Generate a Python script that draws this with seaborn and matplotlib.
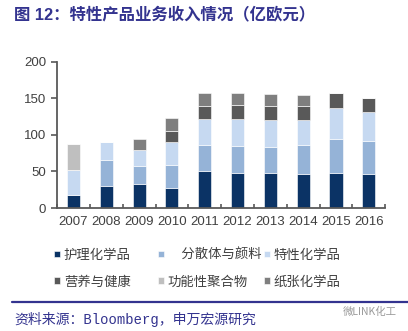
import numpy as np
import matplotlib
matplotlib.use("Agg")
import matplotlib.pyplot as plt
import seaborn as sns

# Revenue of the specialty business by segment (EUR 100 million)
years = ["2007", "2008", "2009", "2010", "2011", "2012", "2013", "2014", "2015", "2016"]
care_chemicals = [18, 30, 33, 27, 51, 48, 48, 47, 48, 47]
dispersions_pigments = [0, 36, 25, 32, 35, 37, 36, 39, 47, 45]
performance_chemicals = [34, 24, 22, 32, 36, 37, 36, 35, 42, 39]
nutrition_health = [0, 0, 0, 15, 18, 19, 20, 19, 20, 19]
functional_polymers = [36, 0, 0, 0, 0, 0, 0, 0, 0, 0]
paper_chemicals = [0, 0, 14, 17, 17, 16, 16, 15, 0, 0]

segment_names = ["护理化学品", "\u3000分散体与颜料", "特性化学品",
                 "营养与健康", "功能性聚合物", "纸张化学品"]
segment_values = [care_chemicals, dispersions_pigments, performance_chemicals,
                  nutrition_health, functional_polymers, paper_chemicals]
segment_colors = ["#0b3365", "#95b3d7", "#c6d9f1", "#595959", "#bfbfbf", "#7f7f7f"]

sns.set_theme(style="white")
plt.rcParams["font.family"] = ["Liberation Sans", "Noto Sans CJK SC", "DejaVu Sans"]

fig = plt.figure(figsize=(4.08, 3.31), dpi=100)
ax = fig.add_axes([0.140, 0.3716, 0.804, 0.4411])

bottom = np.zeros(len(years))
for name, vals, col in zip(segment_names, segment_values, segment_colors):
    sns.barplot(x=years, y=vals, bottom=bottom, color=col, saturation=1,
                width=0.4, order=years, label=name, ax=ax,
                edgecolor="white", linewidth=0.4)
    bottom = bottom + np.array(vals)

handles, labels = ax.get_legend_handles_labels()
if ax.get_legend() is not None:
    ax.get_legend().remove()

ax.set_xlim(-0.5, 9.5)
ax.set_ylim(0, 200)
ax.set_yticks([0, 50, 100, 150, 200])
ax.set_xticks(range(len(years)))
ax.set_xticklabels(years)
ax.set_xticks(np.arange(-0.5, 10, 1), minor=True)

axis_col = "#595959"
for side in ["top", "right"]:
    ax.spines[side].set_visible(False)
for side in ["left", "bottom"]:
    ax.spines[side].set_color(axis_col)
    ax.spines[side].set_linewidth(1.3)

ax.tick_params(axis="y", which="major", direction="out", length=4, width=1.2,
               color=axis_col, labelsize=9.5, labelcolor="#404040", pad=4, left=True)
ax.tick_params(axis="x", which="major", length=0, labelsize=9.5,
               labelcolor="#404040", pad=6)
ax.tick_params(axis="x", which="minor", direction="in", length=3, width=1.2,
               color=axis_col, bottom=True)
ax.set_xlabel("")
ax.set_ylabel("")
ax.grid(False)

# Legend: three columns of two entries each
lookup = dict(zip(labels, handles))
columns = [(segment_names[0], segment_names[3], 0.133),
           (segment_names[1], segment_names[4], 0.388),
           (segment_names[2], segment_names[5], 0.648)]
for top_name, bot_name, xpos in columns:
    leg = fig.legend([lookup[top_name], lookup[bot_name]], [top_name, bot_name],
                     loc="center left", bbox_to_anchor=(xpos, 0.19),
                     frameon=False, handlelength=0.42,
                     handleheight=0.42, handletextpad=0.3, labelspacing=0.95,
                     borderpad=0, borderaxespad=0,
                     prop={"family": ["Noto Sans CJK SC"], "size": 9.6})
    for t in leg.get_texts():
        t.set_color("#404040")

title_col = "#33338f"
fig.text(0.034, 0.955, "图 12：特性产品业务收入情况（亿欧元）", color=title_col,
         fontsize=11.8, fontweight="bold", ha="left", va="center",
         family=["Liberation Sans", "Noto Sans CJK SC"])

fig.add_artist(plt.Line2D([0.03, 1.0], [0.0876, 0.0876], color=title_col,
                          linewidth=1.6, transform=fig.transFigure))

fig.text(0.034, 0.036, "资料来源：Bloomberg，申万宏源研究", color=title_col,
         fontsize=10, ha="left", va="center",
         family=["Liberation Mono", "Noto Sans CJK SC"])
fig.text(0.973, 0.058, "微LINK化工", color="#9a9a9a", fontsize=7.5,
         ha="right", va="center", family=["Noto Sans CJK SC"])

fig.savefig("out.png", dpi=100, facecolor="white")
